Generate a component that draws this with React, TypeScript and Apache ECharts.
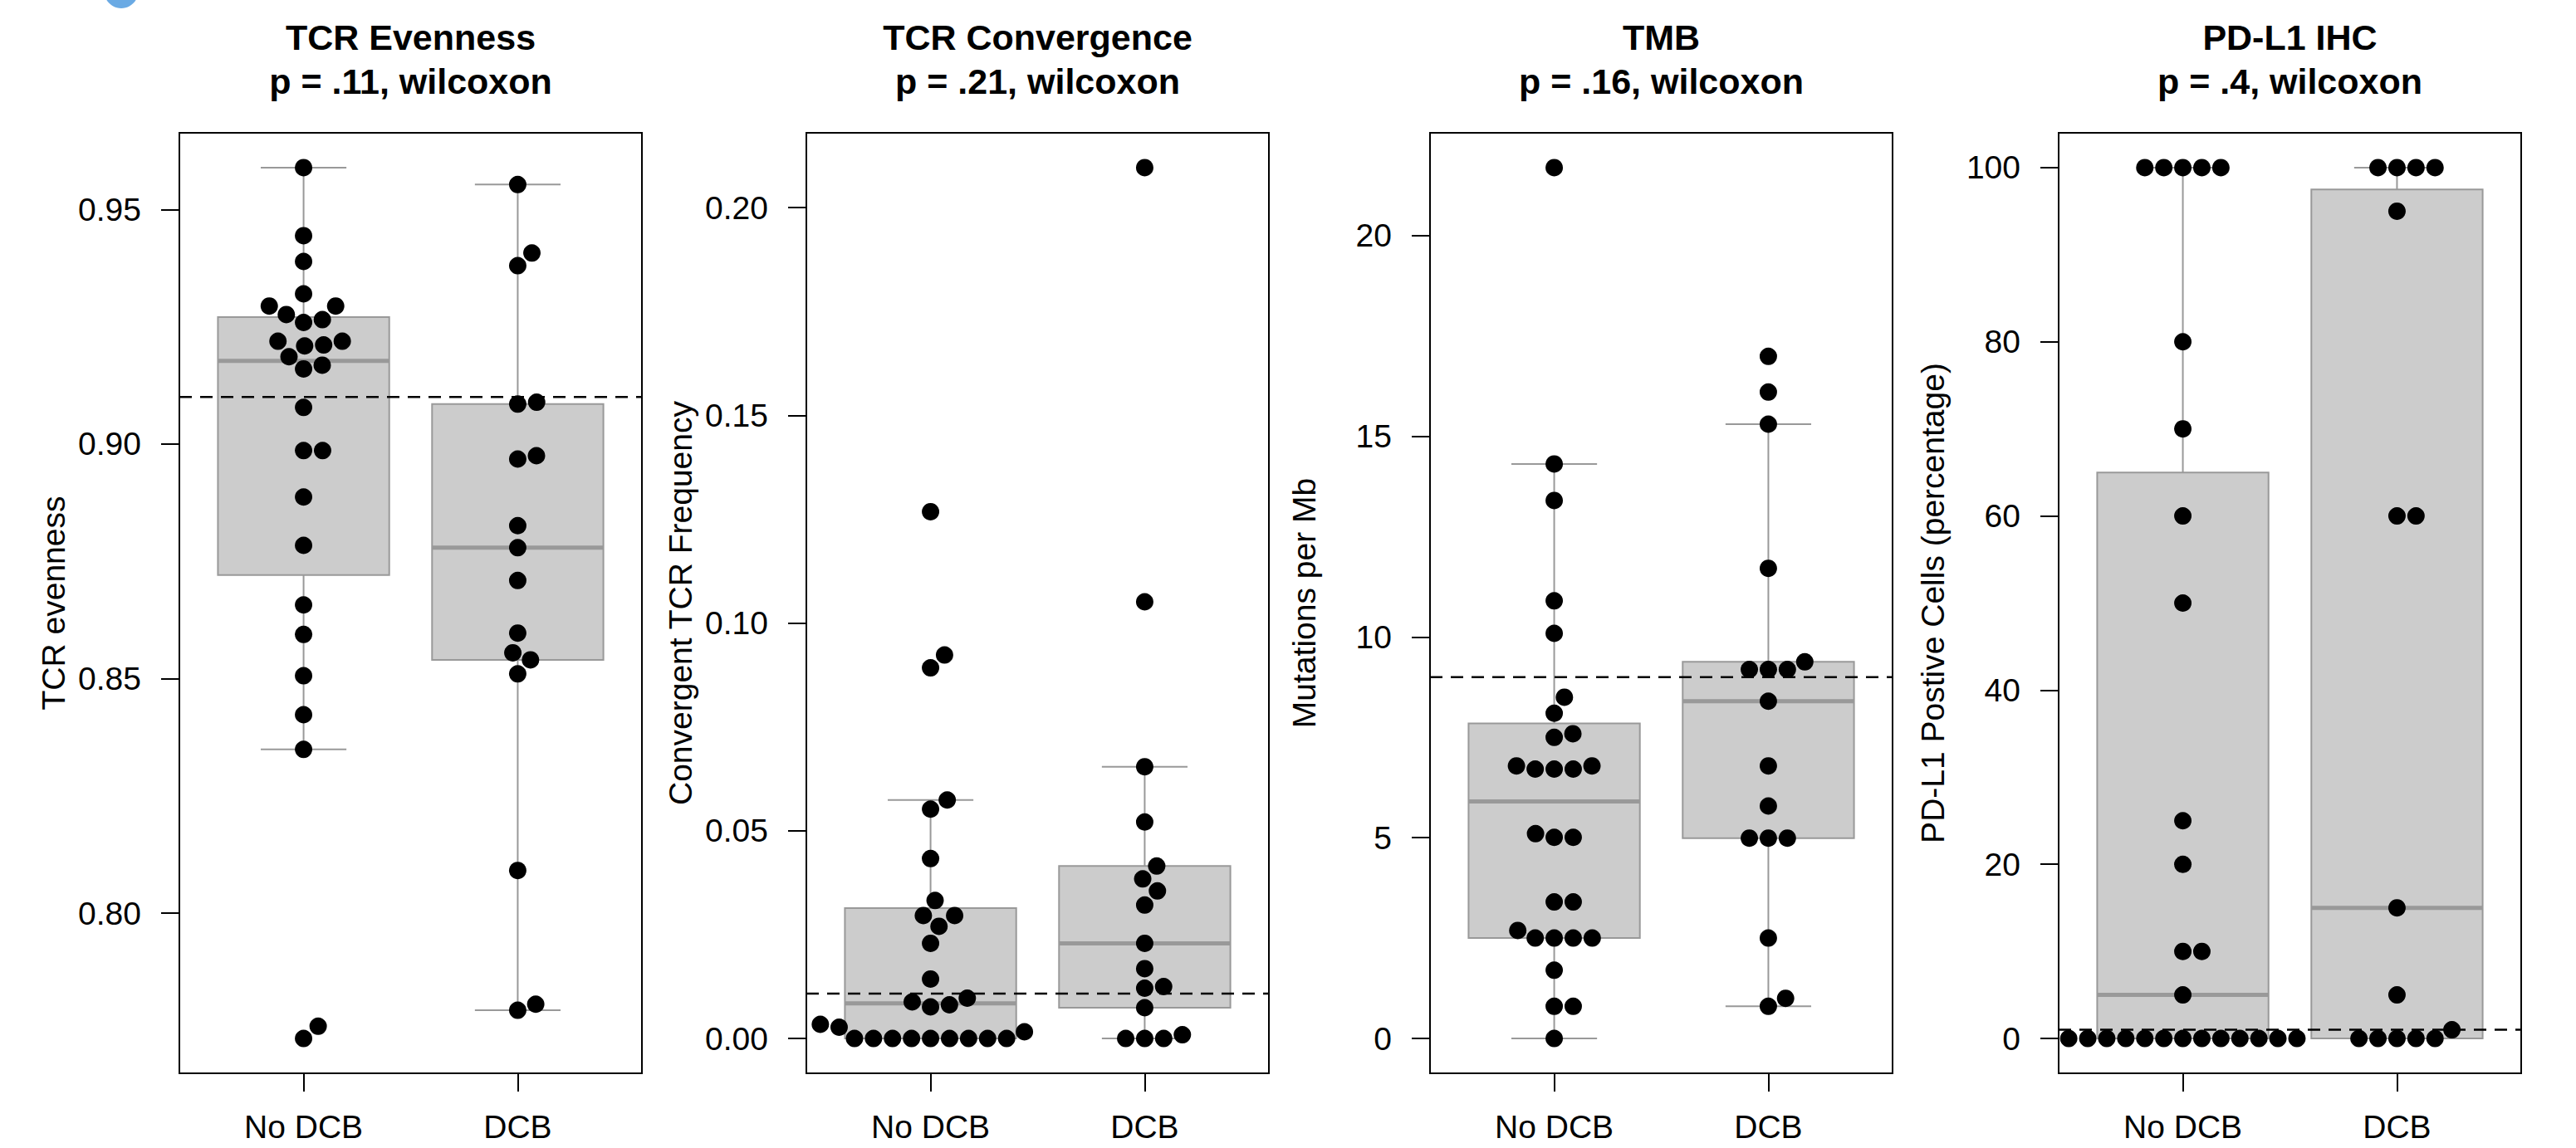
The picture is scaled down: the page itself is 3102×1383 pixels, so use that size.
import React, { useEffect, useRef } from "react";
import * as echarts from "echarts";

// ---------- data ----------
const GROUPS = ["No DCB", "DCB"];
const TITLES = ["TCR Evenness", "TCR Convergence", "TMB", "PD-L1 IHC"];
const P_LABELS = ["p = .11, wilcoxon", "p = .21, wilcoxon", "p = .16, wilcoxon", "p = .4, wilcoxon"];
const Y_NAMES = ["TCR evenness", "Convergent TCR Frequency", "Mutations per Mb", "PD-L1 Postive Cells (percentage)"];
const Y_TICKS = [
  [0.8, 0.85, 0.9, 0.95],
  [0, 0.05, 0.1, 0.15, 0.2],
  [0, 5, 10, 15, 20],
  [0, 20, 40, 60, 80, 100],
];
const Y_DECIMALS = [2, 2, 0, 0];
const THRESHOLDS = [0.91, 0.0108, 9.0, 1.0];

const evenNoDCB = [0.9589, 0.9444, 0.9389, 0.932, 0.9294, 0.9294, 0.9276, 0.9265, 0.9259, 0.9219, 0.9219, 0.9211, 0.9209, 0.9186, 0.9168, 0.916, 0.9078, 0.8986, 0.8986, 0.8887, 0.8784, 0.8657, 0.8594, 0.8506, 0.8423, 0.8349, 0.7759, 0.7733];
const evenDCB = [0.9553, 0.9407, 0.938, 0.9089, 0.9085, 0.8975, 0.8968, 0.8826, 0.8779, 0.8709, 0.8597, 0.8555, 0.854, 0.851, 0.8091, 0.7806, 0.7793];
const convNoDCB = [0.1268, 0.0923, 0.0892, 0.0574, 0.0552, 0.0433, 0.0332, 0.0296, 0.0296, 0.027, 0.0229, 0.0143, 0.0097, 0.0088, 0.0081, 0.0076, 0.0034, 0.0027, 0.0016, 0, 0, 0, 0, 0, 0, 0, 0, 0];
const convDCB = [0.2096, 0.1051, 0.0654, 0.0521, 0.0415, 0.0384, 0.0355, 0.0321, 0.0229, 0.0168, 0.0125, 0.0121, 0.0074, 0.0009, 0, 0, 0];
const tmbNoDCB = [21.69, 14.31, 13.4, 10.9, 10.09, 8.5, 8.1, 7.59, 7.5, 6.79, 6.79, 6.71, 6.71, 6.71, 5.1, 5.01, 5.01, 3.4, 3.4, 2.69, 2.5, 2.5, 2.5, 2.5, 1.7, 0.8, 0.8, 0];
const tmbDCB = [16.99, 16.1, 15.3, 11.71, 9.38, 9.19, 9.19, 9.19, 8.4, 6.79, 5.79, 4.99, 4.99, 4.99, 2.5, 1.0, 0.8];
const pdl1NoDCB = [100, 100, 100, 100, 100, 80, 70, 60, 50, 25, 20, 10, 10, 5, 0, 0, 0, 0, 0, 0, 0, 0, 0, 0, 0, 0, 0];
const pdl1DCB = [100, 100, 100, 100, 95, 60, 60, 15, 5, 1, 0, 0, 0, 0, 0];

const PANEL_DATA = [
  [evenNoDCB, evenDCB],
  [convNoDCB, convDCB],
  [tmbNoDCB, tmbDCB],
  [pdl1NoDCB, pdl1DCB],
];

// ---------- layout ----------
const W = 3102;
const H = 1383;
const PANEL_LEFTS = [216, 971, 1722, 2479];
const PANEL_WIDTH = 557;
const PLOT_TOP = 160;
const PLOT_HEIGHT = 1133;
const X_MIN = 0.42;
const X_MAX = 2.58;
const DOT = 21;
const SPACING = 22.9;
const FONT = "'Liberation Sans', Arial, Helvetica, sans-serif";
const BOX_FILL = "#cccccc";
const BOX_LINE = "#999999";

function fivenum(arr: number[]) {
  const x = [...arr].sort((a, b) => a - b);
  const n = x.length;
  const n4 = Math.floor((n + 3) / 2) / 2;
  const d = [1, n4, (n + 1) / 2, n + 1 - n4, n];
  return d.map((v) => 0.5 * (x[Math.floor(v) - 1] + x[Math.ceil(v) - 1]));
}

function boxStats(arr: number[]) {
  const [, h1, med, h2] = fivenum(arr);
  const iqr = h2 - h1;
  const inside = arr.filter((v) => v >= h1 - 1.5 * iqr && v <= h2 + 1.5 * iqr);
  return [Math.min(...inside), h1, med, h2, Math.max(...inside)];
}

function swarmOffsets(values: number[], pxPerUnit: number): number[] {
  const order = values.map((_, i) => i).sort((a, b) => values[a] - values[b]);
  const py: number[] = [];
  const px: number[] = [];
  const out = new Array(values.length).fill(0);
  order.forEach((i) => {
    const yi = (values[i] * pxPerUnit) / SPACING;
    const nY: number[] = [];
    const nX: number[] = [];
    for (let j = 0; j < py.length; j++) {
      if (Math.abs(py[j] - yi) < 1) {
        nY.push(py[j]);
        nX.push(px[j]);
      }
    }
    let xi = 0;
    if (nY.length) {
      const plus: number[] = [];
      const minus: number[] = [];
      nY.forEach((y, j) => {
        const off = Math.sqrt(1 - (yi - y) ** 2);
        plus.push(nX[j] + off);
        minus.push(nX[j] - off);
      });
      const cands = [0, ...plus, ...minus];
      let best = Infinity;
      for (const c of cands) {
        const bad = nY.some((y, j) => (yi - y) ** 2 + (c - nX[j]) ** 2 < 0.999);
        if (!bad && Math.abs(c) < best) {
          best = Math.abs(c);
          xi = c;
        }
      }
    }
    py.push(yi);
    px.push(xi);
    out[i] = xi * SPACING;
  });
  return out;
}

function buildOption() {
  const grids: any[] = [];
  const xAxes: any[] = [];
  const yAxes: any[] = [];
  const series: any[] = [];
  const graphic: any[] = [];
  const xUnitPx = PANEL_WIDTH / (X_MAX - X_MIN);

  PANEL_DATA.forEach((groups, p) => {
    const all = groups.flat();
    const dmin = Math.min(...all);
    const dmax = Math.max(...all);
    const r = dmax - dmin;
    const ymin = dmin - 0.04 * r;
    const ymax = dmax + 0.04 * r;
    const yPx = PLOT_HEIGHT / (ymax - ymin);

    grids.push({
      left: PANEL_LEFTS[p],
      top: PLOT_TOP,
      width: PANEL_WIDTH,
      height: PLOT_HEIGHT,
      show: true,
      borderColor: "#000",
      borderWidth: 2,
      backgroundColor: "transparent",
    });
    xAxes.push({
      type: "value",
      gridIndex: p,
      position: "bottom",
      min: X_MIN,
      max: X_MAX,
      axisLine: { show: false, onZero: false },
      splitLine: { show: false },
      axisTick: { show: true, customValues: [1, 2], length: 22, lineStyle: { color: "#000", width: 2 } },
      axisLabel: {
        show: true,
        customValues: [1, 2],
        formatter: (v: number) => GROUPS[Math.round(v) - 1],
        fontSize: 39,
        fontFamily: FONT,
        color: "#000",
        margin: 45,
      },
    });
    const dec = Y_DECIMALS[p];
    yAxes.push({
      type: "value",
      gridIndex: p,
      position: "left",
      min: ymin,
      max: ymax,
      name: Y_NAMES[p],
      nameLocation: "middle",
      nameGap: 132,
      nameTextStyle: { fontSize: 39, fontFamily: FONT, color: "#000" },
      axisLine: { show: false, onZero: false },
      splitLine: { show: false },
      axisTick: { show: true, customValues: Y_TICKS[p], length: 22, lineStyle: { color: "#000", width: 2 } },
      axisLabel: {
        show: true,
        customValues: Y_TICKS[p],
        formatter: (v: number) => v.toFixed(dec),
        fontSize: 39,
        fontFamily: FONT,
        color: "#000",
        margin: 46,
      },
    });

    const boxData = groups.map((g, gi) => [gi + 1, ...boxStats(g)]);
    series.push({
      type: "custom",
      xAxisIndex: p,
      yAxisIndex: p,
      z: 2,
      silent: true,
      data: boxData,
      renderItem: (_params: any, api: any) => {
        const x = api.value(0);
        const lo = api.value(1);
        const q1 = api.value(2);
        const med = api.value(3);
        const q3 = api.value(4);
        const hi = api.value(5);
        const c = (a: number, b: number) => api.coord([a, b]);
        const lineStyle = { stroke: BOX_LINE, lineWidth: 2 };
        const tl = c(x - 0.4, q3);
        const br = c(x + 0.4, q1);
        const mk = (a: number[], b: number[], style: any) => ({
          type: "line",
          shape: { x1: a[0], y1: a[1], x2: b[0], y2: b[1] },
          style,
        });
        return {
          type: "group",
          children: [
            mk(c(x, q3), c(x, hi), lineStyle),
            mk(c(x, q1), c(x, lo), lineStyle),
            mk(c(x - 0.2, hi), c(x + 0.2, hi), lineStyle),
            mk(c(x - 0.2, lo), c(x + 0.2, lo), lineStyle),
            {
              type: "rect",
              shape: { x: tl[0], y: tl[1], width: br[0] - tl[0], height: br[1] - tl[1] },
              style: { fill: BOX_FILL, stroke: BOX_LINE, lineWidth: 2 },
            },
            mk(c(x - 0.4, med), c(x + 0.4, med), { stroke: BOX_LINE, lineWidth: 5 }),
          ],
        };
      },
    });

    series.push({
      type: "line",
      xAxisIndex: p,
      yAxisIndex: p,
      z: 3,
      silent: true,
      symbol: "none",
      data: [
        [X_MIN, THRESHOLDS[p]],
        [X_MAX, THRESHOLDS[p]],
      ],
      lineStyle: { color: "#000", width: 2.5, type: [15, 10], opacity: 1 },
    });

    const pts: number[][] = [];
    groups.forEach((g, gi) => {
      const offs = swarmOffsets(g, yPx);
      g.forEach((v, k) => pts.push([gi + 1 + offs[k] / xUnitPx, v]));
    });
    series.push({
      type: "scatter",
      xAxisIndex: p,
      yAxisIndex: p,
      z: 4,
      silent: true,
      symbol: "circle",
      symbolSize: DOT,
      itemStyle: { color: "#000", opacity: 1 },
      data: pts,
    });

    const cx = PANEL_LEFTS[p] + PANEL_WIDTH / 2;
    graphic.push({
      type: "text",
      x: cx,
      y: 44.6,
      style: { text: TITLES[p], fontSize: 43, fontWeight: "bold", fontFamily: FONT, fill: "#000", align: "center", verticalAlign: "middle" },
    });
    graphic.push({
      type: "text",
      x: cx,
      y: 97.6,
      style: { text: P_LABELS[p], fontSize: 43, fontWeight: "bold", fontFamily: FONT, fill: "#000", align: "center", verticalAlign: "middle" },
    });
  });

  graphic.push({
    type: "ellipse",
    shape: { cx: 146, cy: -12, rx: 21, ry: 22 },
    style: { fill: "#6aaae4" },
  });

  return {
    animation: false,
    backgroundColor: "#fff",
    grid: grids,
    xAxis: xAxes,
    yAxis: yAxes,
    series,
    graphic,
  };
}

export default function App() {
  const ref = useRef<HTMLDivElement>(null);
  useEffect(() => {
    if (!ref.current) return;
    const chart = echarts.init(ref.current, undefined, { renderer: "svg" });
    chart.setOption(buildOption() as any);
    return () => chart.dispose();
  }, []);
  return (
    <div
      ref={ref}
      style={{ position: "absolute", left: 0, top: 0, width: W, height: H, background: "#fff" }}
    />
  );
}
